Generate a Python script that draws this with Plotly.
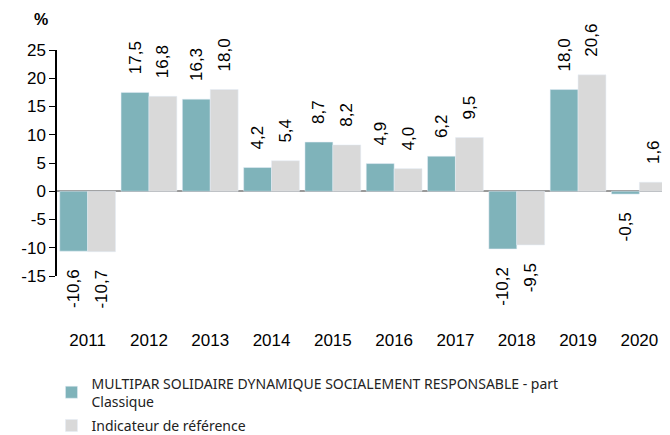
import plotly.graph_objects as go

years = ["2011", "2012", "2013", "2014", "2015", "2016", "2017", "2018", "2019", "2020"]
fund = [-10.6, 17.5, 16.3, 4.2, 8.7, 4.9, 6.2, -10.2, 18.0, -0.5]
bench = [-10.7, 16.8, 18.0, 5.4, 8.2, 4.0, 9.5, -9.5, 20.6, 1.6]
ytick_vals = [-15, -10, -5, 0, 5, 10, 15, 20, 25]
fund_name = "MULTIPAR SOLIDAIRE DYNAMIQUE SOCIALEMENT RESPONSABLE - part<br>Classique"
bench_name = "Indicateur de référence"

FONT = "Liberation Sans"
PAD = "<span style='color:rgba(0,0,0,0)'>-0</span>"

def fmt(v):
    s = f"{v:.1f}".replace(".", ",")
    # rotated text: invisible padding on the end that faces the bar
    return PAD + s if v >= 0 else s + PAD

fig = go.Figure()
fig.add_bar(x=years, y=fund, name=fund_name, marker_color="#7fb3ba",
            legendgroup="a",
            text=[fmt(v) for v in fund], textposition="outside", textangle=-90,
            textfont=dict(family=FONT, size=17, color="#000"),
            cliponaxis=False)
fig.add_bar(x=years, y=bench, name=bench_name, marker_color="#d9d9d9",
            legendgroup="b",
            text=[fmt(v) for v in bench], textposition="outside", textangle=-90,
            textfont=dict(family=FONT, size=17, color="#000"),
            cliponaxis=False)

fig.update_layout(
    width=662, height=427,
    margin=dict(l=49, r=0, t=42, b=159, autoexpand=False),
    barmode="group", bargap=0.09, bargroupgap=0,
    plot_bgcolor="white", paper_bgcolor="white",
    uniformtext=dict(minsize=17, mode="show"),
    legend=dict(x=-0.009, y=-0.405, xanchor="left", yanchor="top",
                font=dict(family="Noto Sans", size=14, color="#222"),
                tracegroupgap=3, itemwidth=30),
    annotations=[dict(text="<b>%</b>", x=-0.011, y=1.133, xref="paper", yref="paper",
                      showarrow=False, xanchor="right", yanchor="middle",
                      font=dict(family=FONT, size=16, color="#000"))],
)
fig.update_xaxes(showline=False, ticks="", showgrid=False, automargin=False,
                 tickfont=dict(family=FONT, size=17, color="#000"),
                 ticklabelstandoff=52)
fig.update_yaxes(range=[-15, 25], showgrid=False, zeroline=True, automargin=False,
                 tickvals=ytick_vals, ticktext=[str(v) for v in ytick_vals],
                 zerolinecolor="#999", zerolinewidth=2,
                 showline=True, linecolor="#000", linewidth=1.5, ticks="outside",
                 ticklen=6, tickcolor="#000",
                 tickfont=dict(family=FONT, size=17, color="#000"))

fig.write_html("out.html")
